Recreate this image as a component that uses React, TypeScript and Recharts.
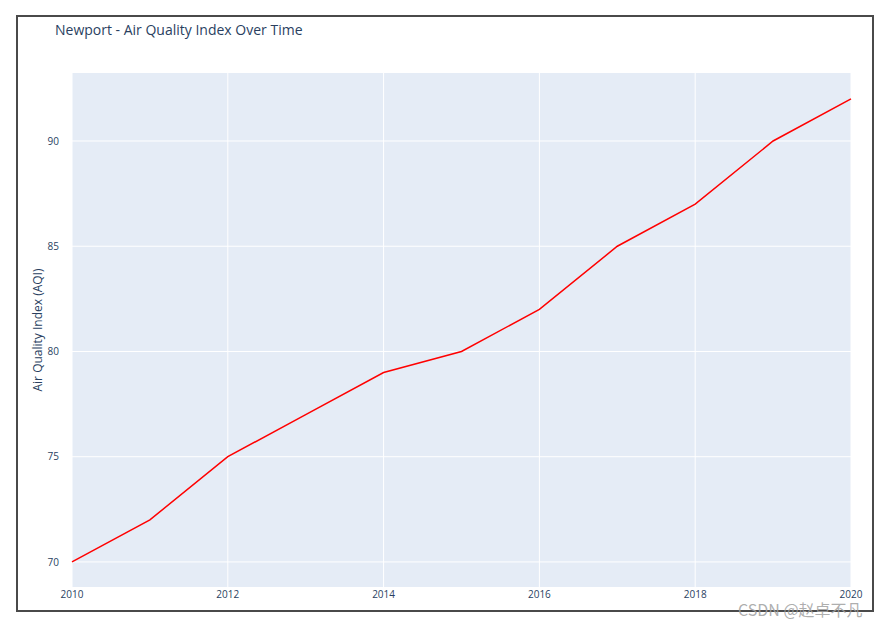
import React from "react"
import {
  LineChart,
  Line,
  XAxis,
  YAxis,
  CartesianGrid,
} from "recharts"

const years = [2010, 2011, 2012, 2013, 2014, 2015, 2016, 2017, 2018, 2019, 2020]
const aqi = [70, 72, 75, 77, 79, 80, 82, 85, 87, 90, 92]
const xTicks = [2010, 2012, 2014, 2016, 2018, 2020]
const yTicks = [70, 75, 80, 85, 90]

const data = years.map((year, i) => ({ year, aqi: aqi[i] }))

const font = '"Open Sans", "DejaVu Sans", sans-serif'
const ink = "#2a3f5f"

export default function App() {
  return (
    <div
      style={{
        position: "absolute",
        left: 0,
        top: 0,
        width: 890,
        height: 626,
        background: "#fff",
        fontFamily: font,
      }}
    >
      <div
        style={{
          position: "absolute",
          left: 16,
          top: 15,
          width: 854,
          height: 593,
          border: "2px solid #4a4a4a",
          overflow: "hidden",
          background: "#fff",
        }}
      >
        <div
          style={{
            position: "absolute",
            left: 37,
            top: 3,
            fontSize: 14,
            color: ink,
            whiteSpace: "nowrap",
          }}
        >
          Newport - Air Quality Index Over Time
        </div>
        <div style={{ position: "absolute", left: 0, top: 0 }}>
          <LineChart
            width={854}
            height={612}
            data={data}
            margin={{ top: 56, right: 21, left: 0, bottom: 0 }}
          >
            <CartesianGrid
              fill="#e5ecf6"
              stroke="#ffffff"
              strokeWidth={1}
              horizontalValues={yTicks}
              verticalValues={xTicks}
            />
            <XAxis
              dataKey="year"
              type="number"
              domain={[2010, 2020]}
              ticks={xTicks}
              height={42}
              axisLine={false}
              tickLine={false}
              tickSize={0}
              tickMargin={4}
              tick={{ fill: ink, fontSize: 10, fontFamily: font }}
              label={{
                value: "Year",
                position: "insideBottom",
                offset: 8,
                style: { fill: ink, fontSize: 13, fontFamily: font },
              }}
            />
            <YAxis
              type="number"
              domain={[68.81, 93.23]}
              ticks={yTicks}
              width={54}
              axisLine={false}
              tickLine={false}
              tickMargin={7}
              tick={{ fill: ink, fontSize: 10, fontFamily: font }}
              label={{
                value: "Air Quality Index (AQI)",
                angle: -90,
                position: "insideLeft",
                offset: 20,
                style: { fill: ink, fontSize: 12, fontFamily: font, textAnchor: "middle" },
              }}
            />
            <Line
              type="linear"
              dataKey="aqi"
              stroke="#ff0000"
              strokeWidth={1.5}
              dot={false}
              isAnimationActive={false}
            />
          </LineChart>
        </div>
      </div>
      <div
        style={{
          position: "absolute",
          left: 738,
          top: 597,
          fontSize: 16,
          color: "rgba(160,160,160,0.85)",
          whiteSpace: "nowrap",
          fontFamily: '"Noto Sans CJK SC", "DejaVu Sans", sans-serif',
        }}
      >
        CSDN @赵卓不凡
      </div>
    </div>
  )
}
